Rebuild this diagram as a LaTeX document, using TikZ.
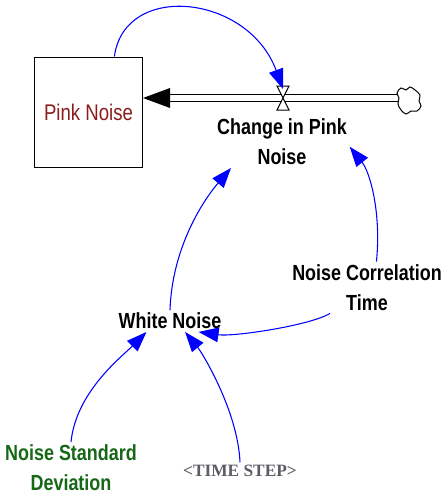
\documentclass[tikz,border=0pt]{standalone}
\usepackage{fontspec}
\setmainfont{Liberation Sans}
\newfontfamily\narrowsans[FakeStretch=0.82]{Liberation Sans}
\newfontfamily\stepserif{Liberation Serif}
\usetikzlibrary{arrows.meta}
\definecolor{stockred}{RGB}{139,28,28}
\definecolor{constgreen}{RGB}{22,104,22}
\definecolor{shadowgrey}{RGB}{92,92,100}
\tikzset{
  varlabel/.style={font=\narrowsans\bfseries\fontsize{16.4}{22.5}\selectfont, align=center, inner sep=2pt},
  stockbox/.style={draw=black, line width=0.75pt, minimum width=81pt, minimum height=82.5pt, inner sep=0pt,
    text=stockred, font=\narrowsans\fontsize{17}{22.5}\selectfont},
  link/.style={blue, line width=0.8pt, -{Triangle[length=15pt,width=11pt]}},
  pipe/.style={draw=black, line width=1pt, double=white, double distance=4.3pt}
}
\begin{document}
\begin{tikzpicture}[x=0.75pt, y=-0.75pt]
\useasboundingbox (0,0) rectangle (446,500);
\node[stockbox] (stock) at (88.5,112) {Pink Noise};
\coordinate (cloudin) at (398,98);
\coordinate (inlet) at (cloudin -| stock.east);
\coordinate (valve) at (283,98);
\coordinate (valvetop) at (283,89);
\draw[pipe, shorten >=19pt] (cloudin) -- (inlet);
\fill[black] (inlet) -- ++(27,-10) -- ++(0,20) -- cycle;
\draw[black, line width=0.75pt, fill=white] plot[smooth cycle, tension=0.6] coordinates {(397,93) (401,88) (406,90) (410,87) (415,90) (420,95) (419,101) (421,106) (417,111) (411,111) (406,114) (401,110) (398,104) (399,98)};
\draw[black, line width=0.75pt, fill=white] (valve) ++(-6,-12) -- ++(12,0) -- ++(-12,24) -- ++(12,0) -- cycle;
\node[varlabel] (change) at (282,142) {Change in Pink\\Noise};
\node[varlabel] (white) at (170,321) {White Noise};
\node[varlabel] (corr) at (367,287.5) {Noise Correlation\\Time};
\node[varlabel, text=constgreen] (sd) at (71,468) {Noise Standard\\Deviation};
\node[font=\stepserif\bfseries\fontsize{13}{16}\selectfont, text=shadowgrey, inner sep=2pt] (ts) at (240,471) {<TIME STEP>};
\draw[link] (stock.65) .. controls +(10,-75) and +(-35,-95) .. (valvetop);
\draw[link] (white.north) .. controls +(2,-60) and +(-30,35) .. (change.207);
\draw[link] (corr.70) .. controls +(5,-50) and +(20,25) .. (change.-4);
\draw[link] (corr.215) .. controls +(-20,12) and +(35,5) .. (white.-21);
\draw[link] (sd.north) .. controls +(5,-50) and +(-25,25) .. (white.205);
\draw[link] (ts.north) .. controls +(-2,-50) and +(18,22) .. (white.-36);
\end{tikzpicture}
\end{document}
